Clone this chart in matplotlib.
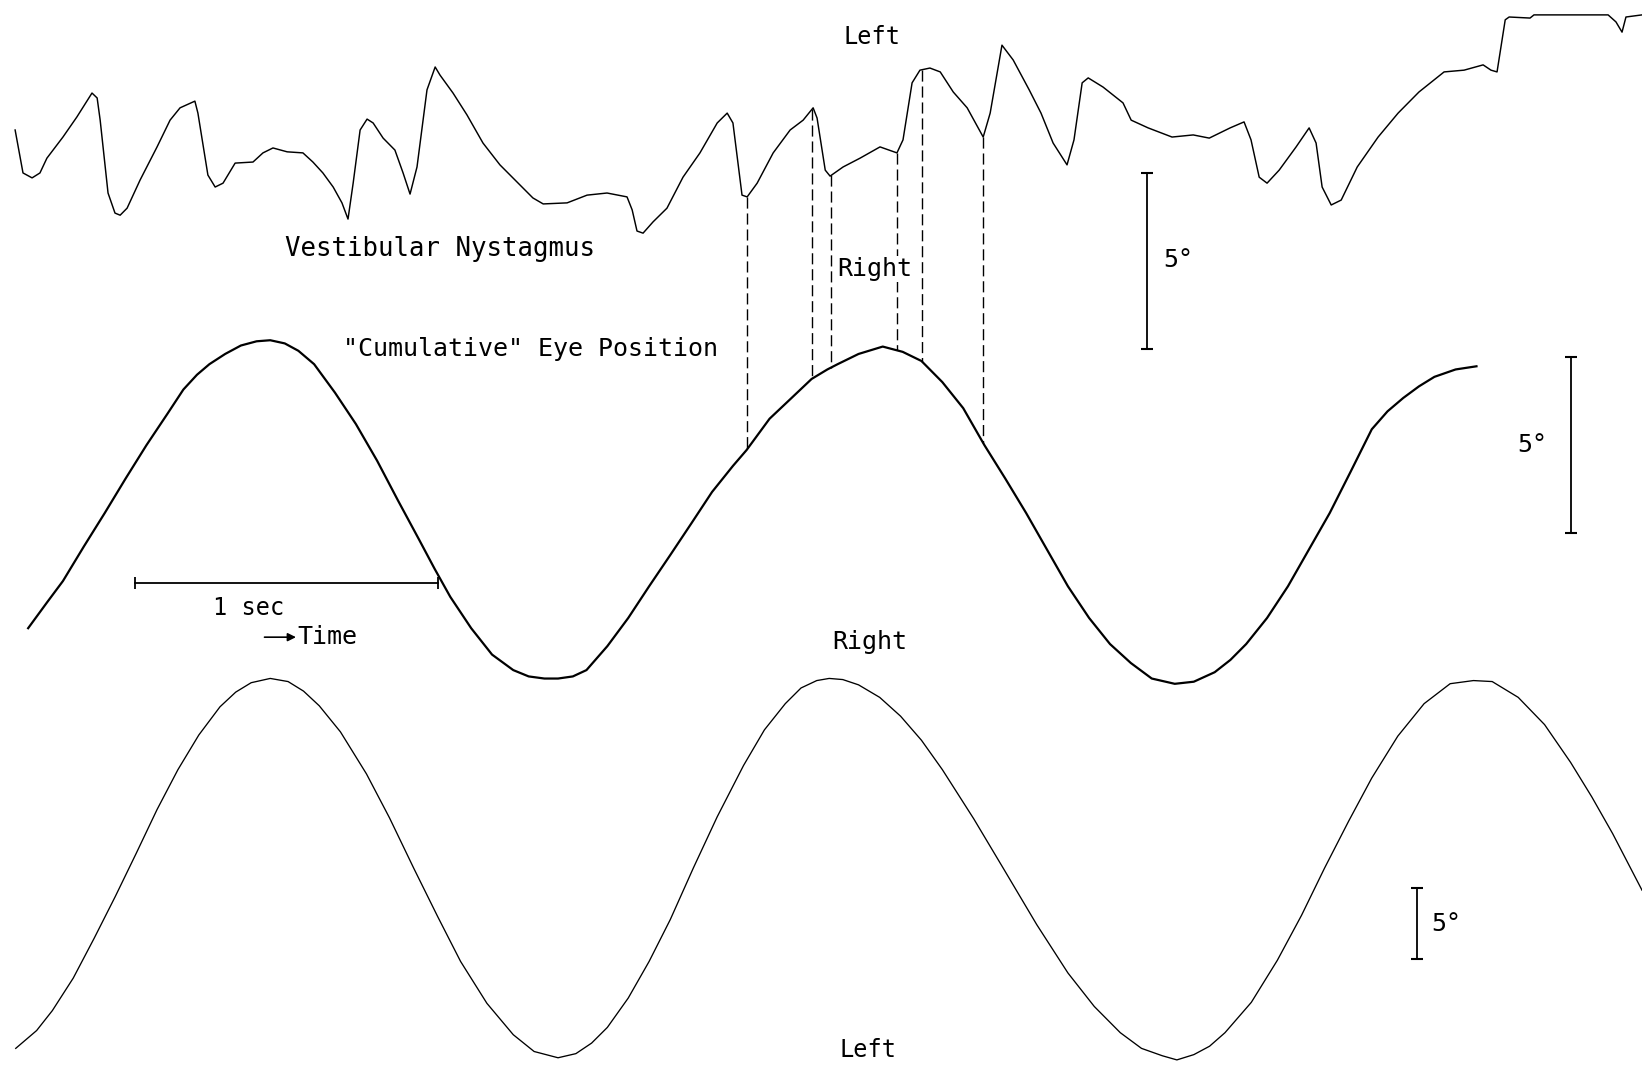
import numpy as np
import matplotlib
matplotlib.use("Agg")
import matplotlib.pyplot as plt

# ---------------- data (time in seconds, position in degrees) ----------------
# Vestibular nystagmus trace (top); positive = toward "Left"
top_t = [0.050, 0.076, 0.106, 0.132, 0.155, 0.208, 0.254, 0.304, 0.321, 0.331,
         0.357, 0.380, 0.397, 0.420, 0.463, 0.519, 0.562, 0.595, 0.644, 0.654,
         0.687, 0.711, 0.737, 0.777, 0.836, 0.869, 0.902, 0.949, 1.001, 1.034,
         1.067, 1.101, 1.130, 1.150, 1.167, 1.190, 1.213, 1.233, 1.266, 1.305,
         1.332, 1.355, 1.378, 1.411, 1.438, 1.454, 1.497, 1.543, 1.596, 1.652,
         1.709, 1.761, 1.795, 1.874, 1.940, 2.006, 2.072, 2.089, 2.105, 2.125,
         2.158, 2.204, 2.257, 2.313, 2.370, 2.403, 2.422, 2.452, 2.469, 2.502,
         2.555, 2.611, 2.654, 2.687, 2.700, 2.727, 2.743, 2.786, 2.842, 2.908,
         2.964, 2.984, 3.014, 3.040, 3.073, 3.107, 3.150, 3.196, 3.249, 3.272,
         3.311, 3.348, 3.401, 3.440, 3.480, 3.526, 3.549, 3.576, 3.596, 3.645,
         3.711, 3.738, 3.794, 3.873, 3.943, 3.996, 4.065, 4.111, 4.134, 4.161,
         4.187, 4.227, 4.283, 4.326, 4.349, 4.369, 4.399, 4.432, 4.485, 4.554,
         4.620, 4.689, 4.772, 4.838, 4.901, 4.927, 4.947, 4.974, 4.987, 5.056,
         5.069, 5.205, 5.314, 5.340, 5.360, 5.373, 5.426]
top_deg = [0.00, -1.22, -1.36, -1.22, -0.80, -0.20, 0.37, 1.05, 0.91, 0.28,
           -1.79, -2.36, -2.42, -2.22, -1.42, -0.48, 0.28, 0.63, 0.82, 0.48,
           -1.28, -1.62, -1.51, -0.94, -0.91, -0.65, -0.51, -0.62, -0.65, -0.91,
           -1.22, -1.62, -2.07, -2.53, -1.51, 0.00, 0.31, 0.20, -0.23, -0.57,
           -1.22, -1.82, -1.05, 1.14, 1.79, 1.56, 1.05, 0.43, -0.37, -0.99,
           -1.48, -1.93, -2.10, -2.07, -1.85, -1.79, -1.90, -2.27, -2.87, -2.93,
           -2.61, -2.22, -1.34, -0.65, 0.20, 0.48, 0.20, -1.85, -1.90, -1.51,
           -0.65, 0.00, 0.28, 0.63, 0.34, -1.14, -1.31, -1.05, -0.80, -0.48,
           -0.65, -0.28, 1.34, 1.70, 1.76, 1.65, 1.08, 0.63, -0.20, 0.48,
           2.41, 1.99, 1.14, 0.48, -0.37, -0.99, -0.28, 1.34, 1.48, 1.22,
           0.77, 0.28, 0.06, -0.20, -0.14, -0.23, 0.06, 0.23, -0.28, -1.34,
           -1.51, -1.14, -0.48, 0.06, -0.37, -1.62, -2.13, -1.99, -1.05, -0.20,
           0.48, 1.08, 1.65, 1.70, 1.85, 1.70, 1.65, 3.13, 3.21, 3.18,
           3.27, 3.27, 3.27, 3.07, 2.78, 3.21, 3.27]

# "Cumulative" eye position (middle)
mid_t = [0.093, 0.156, 0.208, 0.277, 0.346, 0.415, 0.484, 0.554, 0.606, 0.651,
         0.692, 0.744, 0.796, 0.848, 0.893, 0.941, 0.986, 1.038, 1.107, 1.176,
         1.246, 1.315, 1.384, 1.436, 1.488, 1.557, 1.626, 1.696, 1.747, 1.799,
         1.844, 1.893, 1.938, 2.007, 2.076, 2.145, 2.215, 2.284, 2.353, 2.422,
         2.467, 2.543, 2.612, 2.682, 2.734, 2.768, 2.837, 2.917, 2.983, 3.045,
         3.114, 3.183, 3.253, 3.322, 3.391, 3.460, 3.529, 3.599, 3.668, 3.737,
         3.806, 3.882, 3.945, 4.014, 4.066, 4.118, 4.187, 4.256, 4.325, 4.394,
         4.464, 4.533, 4.585, 4.637, 4.689, 4.740, 4.810, 4.879]
mid_deg = [-3.30, -2.56, -1.96, -0.98, -0.03, 0.95, 1.90, 2.80, 3.48, 3.90,
           4.20, 4.49, 4.73, 4.85, 4.88, 4.79, 4.58, 4.20, 3.39, 2.50,
           1.46, 0.33, -0.77, -1.61, -2.41, -3.30, -4.05, -4.49, -4.67, -4.73,
           -4.73, -4.67, -4.49, -3.81, -3.01, -2.11, -1.22, -0.33, 0.57, 1.31,
           1.76, 2.65, 3.21, 3.78, 4.05, 4.20, 4.49, 4.70, 4.55, 4.29,
           3.69, 2.95, 1.90, 0.95, -0.03, -1.07, -2.11, -3.01, -3.75, -4.29,
           -4.73, -4.88, -4.82, -4.55, -4.20, -3.75, -3.01, -2.11, -1.07, -0.03,
           1.16, 2.35, 2.86, 3.24, 3.57, 3.84, 4.05, 4.14]

# Sinusoidal head rotation (bottom)
bot_t = [0.052, 0.121, 0.173, 0.242, 0.311, 0.381, 0.450, 0.519, 0.588, 0.657,
         0.727, 0.779, 0.830, 0.893, 0.952, 1.003, 1.055, 1.125, 1.211, 1.287,
         1.367, 1.446, 1.522, 1.609, 1.696, 1.765, 1.844, 1.903, 1.955, 2.007,
         2.076, 2.145, 2.215, 2.291, 2.370, 2.457, 2.526, 2.595, 2.647, 2.699,
         2.740, 2.785, 2.837, 2.907, 2.976, 3.045, 3.114, 3.218, 3.315, 3.426,
         3.529, 3.616, 3.702, 3.772, 3.841, 3.889, 3.945, 3.997, 4.048, 4.135,
         4.221, 4.301, 4.377, 4.457, 4.533, 4.619, 4.706, 4.792, 4.869, 4.931,
         5.017, 5.104, 5.190, 5.260, 5.329, 5.426]
bot_deg = [-12.61, -11.36, -9.96, -7.68, -4.89, -1.95, 1.07, 4.15, 6.95, 9.38,
           11.36, 12.39, 13.05, 13.35, 13.13, 12.46, 11.43, 9.60, 6.65, 3.57,
           0.04, -3.35, -6.51, -9.45, -11.65, -12.83, -13.27, -12.98, -12.24, -11.14,
           -9.08, -6.51, -3.57, 0.04, 3.64, 7.24, 9.74, 11.58, 12.68, 13.20,
           13.35, 13.27, 12.90, 12.02, 10.70, 9.01, 6.95, 3.49, 0.04, -3.93,
           -7.32, -9.67, -11.51, -12.61, -13.13, -13.42, -13.05, -12.46, -11.51, -9.38,
           -6.43, -3.27, 0.04, 3.35, 6.36, 9.30, 11.58, 12.98, 13.20, 13.13,
           12.02, 10.11, 7.46, 5.04, 2.46, -1.51]

# instants linking nystagmus beats to the cumulative trace
link_t = [2.469, 2.684, 2.746, 2.964, 3.047, 3.249]

scale_deg = 5.0      # calibration bars
time_bar_s = 1.0     # time calibration

# ---------------- layout ----------------
TOTAL_T = 5.426
TOTAL_H = 30.31
TOP_Y0, MID_Y0, BOT_Y0 = -3.693, -14.545, -24.676
BOT_SCALE = 0.4048

fig = plt.figure(figsize=(16.42, 10.67), dpi=100)
ax = fig.add_axes([0, 0, 1, 1])
ax.set_xlim(0, TOTAL_T)
ax.set_ylim(-TOTAL_H, 0)
ax.axis("off")

top_y = TOP_Y0 + np.asarray(top_deg)
mid_y = MID_Y0 + np.asarray(mid_deg)
bot_y = BOT_Y0 + BOT_SCALE * np.asarray(bot_deg)

ax.plot(top_t, top_y, color="black", lw=1.05, solid_joinstyle="round")
ax.plot(mid_t, mid_y, color="black", lw=1.6, solid_joinstyle="round")
ax.plot(bot_t, bot_y, color="black", lw=0.95, solid_joinstyle="round")

# dashed links
lt = np.asarray(link_t)
y_from = TOP_Y0 + np.interp(lt, top_t, top_deg)
y_to = MID_Y0 + np.interp(lt, mid_t, mid_deg)
for x, a, b in zip(lt, y_from, y_to):
    ax.plot([x, x], [a, b], color="black", lw=1.0, dashes=(8, 3.5), zorder=1)

# calibration bars
def vbar(x, ytop, length):
    ax.plot([x, x], [ytop, ytop - length], color="black", lw=1.3,
            marker="_", ms=8, mew=1.5)

vbar(3.790, -4.915, scale_deg)
vbar(5.192, -10.14, scale_deg)
vbar(4.683, -25.23, scale_deg * BOT_SCALE)
ax.plot([0.446, 0.446 + time_bar_s], [-16.56, -16.56], color="black", lw=1.3,
        marker="|", ms=8, mew=1.3)

ax.annotate("", xy=(0.978, -18.10), xytext=(0.874, -18.10),
            arrowprops=dict(arrowstyle="-|>", color="black", lw=1.2,
                            mutation_scale=12, shrinkA=0, shrinkB=0))

tk = dict(color="black", family="DejaVu Sans Mono")
ax.text(2.882, -1.05, "Left", ha="center", va="center", fontsize=17, **tk)
ax.text(0.942, -7.07, "Vestibular Nystagmus", ha="left", va="center", fontsize=18.5, **tk)
ax.text(2.890, -7.64, "Right", ha="center", va="center", fontsize=18, zorder=3,
        bbox=dict(boxstyle="square,pad=0.05", fc="white", ec="none"), **tk)
ax.text(3.893, -7.39, "5°", ha="center", va="center", fontsize=18, **tk)
ax.text(1.134, -9.91, "\"Cumulative\" Eye Position", ha="left", va="center", fontsize=18, **tk)
ax.text(5.063, -12.64, "5°", ha="center", va="center", fontsize=18, **tk)
ax.text(0.820, -17.27, "1 sec", ha="center", va="center", fontsize=17, **tk)
ax.text(0.982, -18.10, "Time", ha="left", va="center", fontsize=18, **tk)
ax.text(2.875, -18.24, "Right", ha="center", va="center", fontsize=18, **tk)
ax.text(4.779, -26.25, "5°", ha="center", va="center", fontsize=18, **tk)
ax.text(2.868, -29.83, "Left", ha="center", va="center", fontsize=17, **tk)

fig.savefig("out.png", dpi=100, facecolor="white")
